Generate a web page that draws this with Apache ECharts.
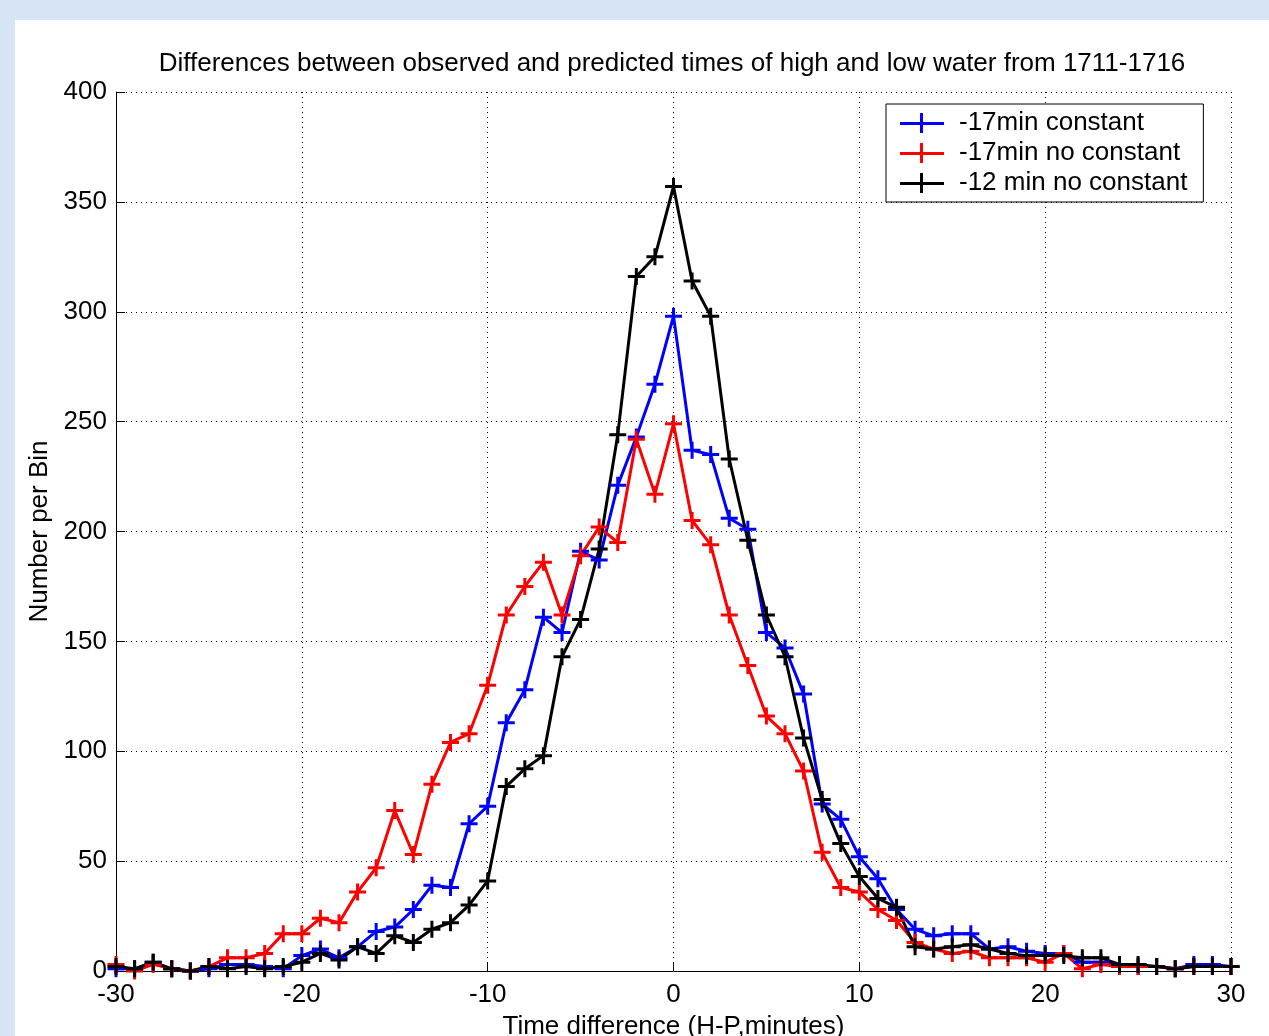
<!DOCTYPE html>
<html>
<head>
<meta charset="utf-8">
<script src="https://cdn.jsdelivr.net/npm/echarts@6/dist/echarts.min.js"></script>
<style>
  html, body { margin: 0; padding: 0; background: #d6e4f6; }
  #chart { width: 1269px; height: 1036px; }
</style>
</head>
<body>
<div id="chart"></div>
<script>
// time difference (minutes), one bin per minute
var minutes = [-30, -29, -28, -27, -26, -25, -24, -23, -22, -21,
  -20, -19, -18, -17, -16, -15, -14, -13, -12, -11,
  -10, -9, -8, -7, -6, -5, -4, -3, -2, -1,
  0, 1, 2, 3, 4, 5, 6, 7, 8, 9,
  10, 11, 12, 13, 14, 15, 16, 17, 18, 19,
  20, 21, 22, 23, 24, 25, 26, 27, 28, 29, 30];

var constant17 = [1, 1, 4, 1, 0, 1, 3, 3, 2, 1,
  7, 10, 6, 11, 18, 20, 28, 39, 38, 67,
  75, 113, 128, 161, 154, 191, 187, 221, 243, 267,
  298, 237, 235, 206, 201, 154, 147, 126, 76, 69,
  52, 42, 28, 19, 16, 17, 17, 10, 11, 9,
  8, 8, 4, 4, 3, 2, 2, 1, 3, 3, 2];

var noConstant17 = [3, 0, 3, 1, 0, 2, 6, 6, 8, 17,
  17, 24, 22, 36, 47, 73, 53, 85, 104, 108,
  130, 162, 175, 186, 162, 189, 202, 195, 242, 217,
  249, 205, 194, 162, 139, 116, 108, 91, 54, 38,
  36, 28, 23, 13, 10, 8, 9, 6, 6, 6,
  4, 8, 1, 3, 2, 2, 2, 1, 2, 2, 2];

var noConstant12 = [2, 1, 4, 1, 0, 2, 1, 2, 1, 2,
  4, 8, 5, 11, 8, 16, 13, 19, 22, 30,
  41, 84, 92, 98, 143, 160, 192, 244, 316, 325,
  357, 314, 298, 233, 196, 162, 143, 106, 78, 58,
  43, 33, 29, 11, 10, 11, 12, 10, 8, 7,
  7, 7, 6, 6, 3, 3, 2, 1, 2, 2, 2];

var seriesNames = ["-17min constant", "-17min no constant", "-12 min no constant"];
var seriesColors = ["#0000ff", "#ff0000", "#000000"];

var font = "'Liberation Sans', Arial, sans-serif";
var plus = "path://M7,0H10V17H7Z M0,7H17V10H0Z";

function pairs(ys) {
  return minutes.map(function (m, i) {
    return [m, ys[i]];
  });
}

function makeSeries(idx, ys) {
  return {
    name: seriesNames[idx],
    type: "line",
    data: pairs(ys),
    symbol: plus,
    symbolSize: 17,
    showAllSymbol: true,
    lineStyle: { color: seriesColors[idx], width: 3 },
    itemStyle: { color: seriesColors[idx], borderWidth: 0 },
    emphasis: { disabled: true }
  };
}

var chart = echarts.init(document.getElementById("chart"));
chart.setOption({
  animation: false,
  backgroundColor: "#d6e4f6",
  graphic: [
    {
      type: "rect",
      shape: { x: 15, y: 20, width: 1254, height: 1016 },
      style: { fill: "#ffffff" },
      z: -10
    }
  ],
  title: {
    text: "Differences between observed and predicted times of high and low water from 1711-1716",
    left: 667,
    top: 46,
    textAlign: "center",
    textStyle: { fontFamily: font, fontSize: 26, fontWeight: "normal", color: "#000" }
  },
  legend: {
    orient: "vertical",
    left: 886,
    top: 104,
    padding: [6, 16, 6, 14],
    itemGap: 4,
    itemWidth: 44,
    itemHeight: 20,
    backgroundColor: "#ffffff",
    borderColor: "#000",
    borderWidth: 1,
    borderRadius: 0,
    icon: "path://M0,9H44V12H0Z M20,0H23V20H20Z",
    itemStyle: { borderWidth: 0 },
    textStyle: { fontFamily: font, fontSize: 26, color: "#000", padding: [0, 0, 0, 10] },
    data: seriesNames
  },
  grid: {
    left: 116,
    top: 92,
    width: 1115,
    height: 879,
    outerBoundsMode: "none"
  },
  xAxis: {
    type: "value",
    min: -30,
    max: 30,
    interval: 10,
    name: "Time difference (H-P,minutes)",
    nameLocation: "middle",
    nameGap: 43,
    nameTextStyle: { fontFamily: font, fontSize: 26, color: "#000" },
    axisLine: { onZero: false, lineStyle: { color: "#000", width: 1 } },
    axisTick: { inside: true, length: 9, lineStyle: { color: "#000" } },
    axisLabel: { fontFamily: font, fontSize: 26, color: "#000", margin: 11 },
    splitLine: { show: true, lineStyle: { color: "#000", width: 1, type: [1, 4] } }
  },
  yAxis: {
    type: "value",
    min: 0,
    max: 400,
    interval: 50,
    name: "Number per Bin",
    nameLocation: "middle",
    nameGap: 59,
    nameTextStyle: { fontFamily: font, fontSize: 26, color: "#000" },
    axisLine: { show: true, onZero: false, lineStyle: { color: "#000", width: 1 } },
    axisTick: { show: true, inside: true, length: 9, lineStyle: { color: "#000" } },
    axisLabel: { fontFamily: font, fontSize: 26, color: "#000", margin: 9 },
    splitLine: { show: true, lineStyle: { color: "#000", width: 1, type: [1, 4] } }
  },
  series: [
    makeSeries(0, constant17),
    makeSeries(1, noConstant17),
    makeSeries(2, noConstant12)
  ]
});
</script>
</body>
</html>
